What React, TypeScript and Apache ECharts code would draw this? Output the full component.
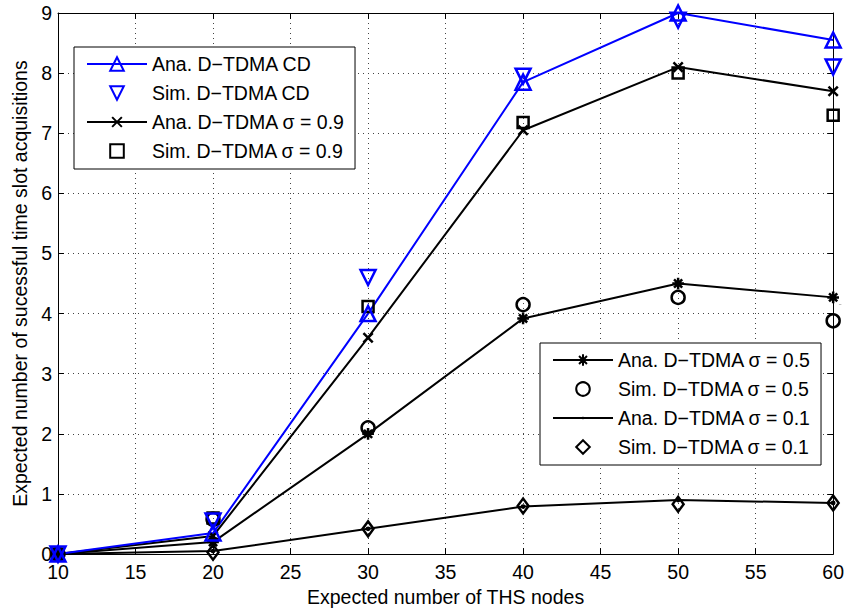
import React, { useEffect, useRef } from "react";
import * as echarts from "echarts";

const xNodes = [10, 20, 30, 40, 50, 60];
const anaCD = [0, 0.35, 4.0, 7.85, 9.0, 8.55];
const simCD = [0, 0.55, 4.6, 7.95, 8.88, 8.1];
const ana09 = [0, 0.3, 3.6, 7.05, 8.1, 7.7];
const sim09 = [0, 0.6, 4.12, 7.18, 8.0, 7.3];
const ana05 = [0, 0.2, 2.0, 3.92, 4.5, 4.27];
const sim05 = [0, 0.58, 2.1, 4.15, 4.27, 3.88];
const ana01 = [0, 0.05, 0.42, 0.79, 0.9, 0.85];
const sim01 = [0, 0.03, 0.42, 0.8, 0.83, 0.85];

const names = [
  "Ana. D\u2212TDMA CD",
  "Sim. D\u2212TDMA CD",
  "Ana. D\u2212TDMA \u03c3 = 0.9",
  "Sim. D\u2212TDMA \u03c3 = 0.9",
  "Ana. D\u2212TDMA \u03c3 = 0.5",
  "Sim. D\u2212TDMA \u03c3 = 0.5",
  "Ana. D\u2212TDMA \u03c3 = 0.1",
  "Sim. D\u2212TDMA \u03c3 = 0.1",
];

const FONT = "Liberation Sans, Arial, Helvetica, sans-serif";
const BLUE = "#0000ff";
const BLACK = "#000000";

const pairs = (ys: number[]) => xNodes.map((x, i) => [x, ys[i]]);

const crossPath = "path://M-2,-2L-2,-2.01M12,12L12,12.01M0,0L10,10M10,0L0,10";
const starPath = "path://M-1,-1L-1,-1.01M11,11L11,11.01M5,0L5,10M0,5L10,5M1.5,1.5L8.5,8.5M8.5,1.5L1.5,8.5";
const dotPath = "path://M0,0L0.01,0.01M20,20L20.01,20.01M8,10A2,2,0,1,1,12,10A2,2,0,1,1,8,10Z";

function series(name: string, ys: number[], color: string, symbol: string, size: any, withLine: boolean, extra: any = {}) {
  return {
    type: "line",
    name,
    data: pairs(ys),
    symbol,
    symbolSize: size,
    showSymbol: true,
    clip: false,
    lineStyle: withLine ? { color, width: 2 } : { color, width: 0, opacity: 0 },
    itemStyle: { color: "rgba(255,255,255,0)", borderColor: color, borderWidth: 2.5 },
    emphasis: { disabled: true },
    ...extra,
  };
}

export default function App() {
  const ref = useRef<HTMLDivElement>(null);
  useEffect(() => {
    document.body.style.margin = "0";
    if (!ref.current) return;
    const chart = echarts.init(ref.current, null, { renderer: "svg" });
    const axisCommon = {
      axisLine: { show: true, onZero: false, lineStyle: { color: BLACK, width: 1 } },
      axisTick: { show: true, inside: true, length: 6, lineStyle: { color: BLACK } },
    };
    const legendCommon = {
      orient: "vertical",
      backgroundColor: "#fff",
      borderColor: BLACK,
      borderWidth: 1,
      itemWidth: 60,
      itemHeight: 17,
      itemGap: 9,
      padding: [7, 10, 8, 12],
      textStyle: { fontFamily: FONT, fontSize: 19.5, color: BLACK },
      selectedMode: false,
    };
    const tickFont = { fontFamily: FONT, fontSize: 19.5, color: BLACK };
    const nameFont = { fontFamily: FONT, fontSize: 19.5, color: BLACK };
    const gridLine = { show: true, lineStyle: { color: "#444", type: [1, 4], width: 1 } };
    chart.setOption({
      animation: false,
      backgroundColor: "#fff",
      grid: { left: 58, right: 10, top: 13, bottom: 56, containLabel: false },
      xAxis: [
        {
          type: "value",
          min: 10,
          max: 60,
          interval: 5,
          position: "bottom",
          name: "Expected number of THS nodes",
          nameLocation: "middle",
          nameGap: 30,
          nameTextStyle: nameFont,
          axisLabel: { ...tickFont, margin: 8 },
          splitLine: gridLine,
          ...axisCommon,
        },
        {
          type: "value",
          min: 10,
          max: 60,
          interval: 5,
          position: "top",
          axisLabel: { show: false },
          splitLine: { show: false },
          ...axisCommon,
        },
      ],
      yAxis: [
        {
          type: "value",
          min: 0,
          max: 9,
          interval: 1,
          position: "left",
          name: "Expected number of sucessful time slot acquisitions",
          nameLocation: "middle",
          nameGap: 28,
          nameTextStyle: nameFont,
          axisLabel: { ...tickFont, margin: 6 },
          splitLine: gridLine,
          ...axisCommon,
        },
        {
          type: "value",
          min: 0,
          max: 9,
          interval: 1,
          position: "right",
          axisLabel: { show: false },
          splitLine: { show: false },
          ...axisCommon,
        },
      ],
      legend: [
        { ...legendCommon, left: 74, top: 47, data: names.slice(0, 4) },
        { ...legendCommon, left: 540, top: 343, data: names.slice(4, 8) },
      ],
      series: [
        series(names[4], ana05, BLACK, starPath, 14, true),
        series(names[5], sim05, BLACK, "circle", 13, false),
        series(names[6], ana01, BLACK, dotPath, 24, true, {
          itemStyle: { color: BLACK, borderColor: BLACK, borderWidth: 0 },
        }),
        series(names[7], sim01, BLACK, "diamond", [11, 15], false),
        series(names[2], ana09, BLACK, crossPath, 13, true),
        series(names[3], sim09, BLACK, "rect", 11, false),
        series(names[0], anaCD, BLUE, "triangle", 15, true),
        series(names[1], simCD, BLUE, "triangle", 15, false, { symbolRotate: 180 }),
      ],
    });
    return () => chart.dispose();
  }, []);
  return <div ref={ref} style={{ width: 847, height: 612 }} />;
}
